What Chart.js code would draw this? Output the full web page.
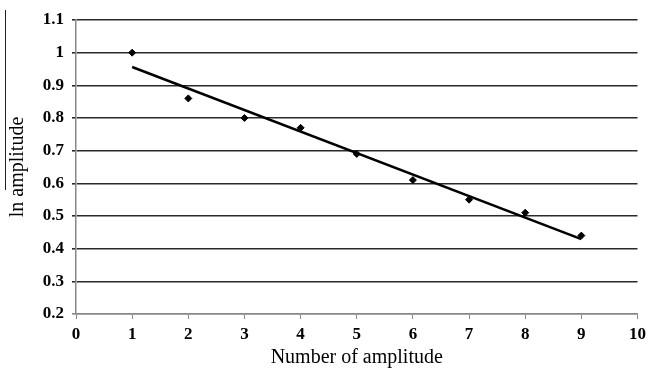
<!DOCTYPE html>
<html>
<head>
<meta charset="utf-8">
<script src="https://cdn.jsdelivr.net/npm/chart.js@4.4.0/dist/chart.umd.min.js"></script>
<style>
  html, body { margin: 0; padding: 0; background: #fff; }
  #wrap { width: 651px; height: 370px; }
</style>
</head>
<body>
<div id="wrap"><canvas id="ampChart" width="651" height="370"></canvas></div>
<script>
// data
const amplitudeNo = [1, 2, 3, 4, 5, 6, 7, 8, 9];
const lnAmplitude = [1.0, 0.86, 0.80, 0.77, 0.69, 0.61, 0.55, 0.51, 0.44];
// linear trend line end points
const trendX = [1, 9];
const trendY = [0.956, 0.429];

document.addEventListener("DOMContentLoaded", function() {
    const ctx = document.getElementById("ampChart").getContext("2d");
    const serif = "'Liberation Serif', 'DejaVu Serif', serif";

    // small bar to the left of the y title (as in the original figure)
    const titleBar = {
        id: 'titleBar',
        afterDraw(chart) {
            const c = chart.ctx;
            c.save();
            c.strokeStyle = '#222';
            c.lineWidth = 1;
            c.beginPath();
            c.moveTo(5.5, 10);
            c.lineTo(5.5, 190);
            c.stroke();
            c.restore();
        }
    };

    new Chart(ctx, {
        type: 'scatter',
        data: {
            datasets: [{
                label: 'ln amplitude',
                data: amplitudeNo.map((x, i) => ({ x: x, y: lnAmplitude[i] })),
                pointStyle: 'rectRot',
                pointRadius: 3.5,
                backgroundColor: '#000',
                borderColor: '#000',
                showLine: false
            }, {
                label: 'trend',
                data: trendX.map((x, i) => ({ x: x, y: trendY[i] })),
                showLine: true,
                pointRadius: 0,
                borderColor: '#000',
                borderWidth: 2.5,
                fill: false
            }]
        },
        options: {
            responsive: false,
            animation: false,
            layout: { padding: { top: 20, right: 9, left: 0, bottom: 0 } },
            plugins: {
                legend: { display: false },
                tooltip: { enabled: false }
            },
            scales: {
                x: {
                    type: 'linear',
                    min: 0,
                    max: 10,
                    afterFit: s => { s.height = 56; },
                    ticks: {
                        stepSize: 1,
                        color: '#000',
                        padding: 5,
                        font: { family: serif, size: 17, weight: 'bold' }
                    },
                    grid: {
                        drawOnChartArea: false,
                        drawTicks: true,
                        tickLength: 5,
                        tickColor: '#888'
                    },
                    border: { color: '#888', width: 1.5 },
                    title: {
                        display: true,
                        text: 'Number of amplitude',
                        color: '#000',
                        padding: { top: 0, bottom: 0 },
                        font: { family: serif, size: 20 }
                    }
                },
                y: {
                    min: 0.2,
                    max: 1.1,
                    afterFit: s => { s.width = 76; },
                    ticks: {
                        stepSize: 0.1,
                        color: '#000',
                        padding: 8,
                        font: { family: serif, size: 17, weight: 'bold' },
                        callback: v => Number(v.toFixed(1)).toString()
                    },
                    grid: {
                        color: ctx2 => ctx2.tick && Math.abs(ctx2.tick.value - 0.2) < 1e-6 ? '#888' : '#2a2a2a',
                        lineWidth: 1.6,
                        tickLength: 4
                    },
                    border: { color: '#888', width: 1.5 },
                    title: {
                        display: true,
                        text: 'ln amplitude',
                        color: '#000',
                        padding: { top: 6, bottom: 0 },
                        font: { family: serif, size: 20 }
                    }
                }
            }
        },
        plugins: [titleBar]
    });
});
</script>
</body>
</html>
